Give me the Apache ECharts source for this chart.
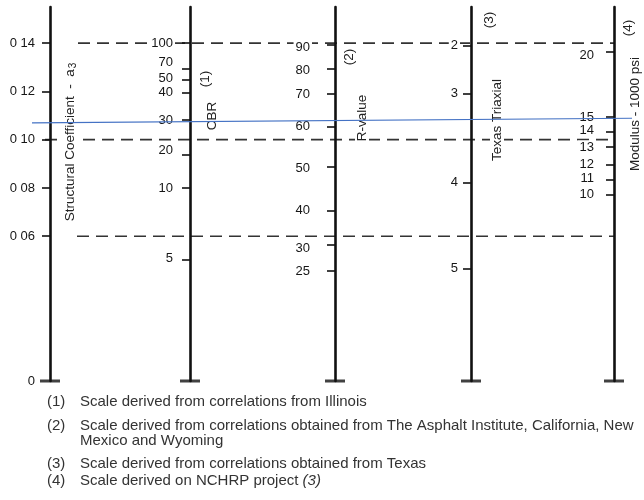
<!DOCTYPE html>
<html><head><meta charset="utf-8">
<script src="https://cdn.jsdelivr.net/npm/echarts@6/dist/echarts.min.js"></script>
<style>html,body{margin:0;padding:0;background:#fff}#c{width:644px;height:500px}</style>
</head><body><div id="c"></div>
<script>
// ---- data (positions expressed on the a3 coefficient scale) ----
const stations = [50, 190, 335, 471, 614];           // x units of the hidden horizontal axis

const a3Labels = ['0 14', '0 12', '0 10', '0 08', '0 06', '0'];
const a3LabelAt = [0.14, 0.12, 0.10, 0.08, 0.06, 0];
const a3TickAt = [0.14, 0.12, 0.10, 0.08, 0.06];

const cbrLabels = ['100', '70', '50', '40', '30', '20', '10', '5'];
const cbrTickAt = [0.140, 0.1293, 0.1247, 0.1194, 0.1082, 0.0937, 0.0802, 0.0501];
const cbrLabelAt = [0.140, 0.1322, 0.1256, 0.1198, 0.1078, 0.0957, 0.0800, 0.0506];

const rLabels = ['90', '80', '70', '60', '50', '40', '30', '25'];
const rTickAt = [0.1395, 0.1293, 0.1189, 0.1053, 0.0887, 0.0705, 0.0564, 0.0456];
const rLabelAt = [0.1381, 0.1289, 0.1189, 0.1057, 0.0883, 0.0705, 0.0551, 0.0453];

const txLabels = ['2', '3', '4', '5'];
const txTickAt = [0.1390, 0.1192, 0.0822, 0.0467];
const txLabelAt = [0.1390, 0.1192, 0.0822, 0.0467];

const modLabels = ['20', '15', '14', '13', '12', '11', '10'];
const modTickAt = [0.1364, 0.1094, 0.1032, 0.0970, 0.0895, 0.0833, 0.0771];
const modLabelAt = [0.1351, 0.1094, 0.1040, 0.0970, 0.0899, 0.0841, 0.0775];

const guideLevels = [0.14, 0.10, 0.06];
const guideFrom = [78, 45, 77];
const guideTo = [614, 614, 614];

const blueLine = [[32, 0.1070], [632, 0.1089]];

const axisTitles = [
  {text: 'Structural Coefficient  -  a', sub: '3', x: 70, y: 142},
  {text: '(1)', x: 205, y: 79},
  {text: 'CBR', x: 212, y: 116},
  {text: '(2)', x: 349, y: 57},
  {text: 'R-value', x: 362, y: 118},
  {text: '(3)', x: 489, y: 20},
  {text: 'Texas Triaxial', x: 497, y: 120},
  {text: '(4)', x: 628, y: 28},
  {text: 'Modulus - 1000 psi', x: 635, y: 114}
];

const notes = [
  {mark: '(1)', text: 'Scale derived from correlations from Illinois', y: 402},
  {mark: '(2)', text: 'Scale derived from correlations obtained from The Asphalt Institute, California, New', y: 426},
  {mark: '', text: 'Mexico and Wyoming', y: 441},
  {mark: '(3)', text: 'Scale derived from correlations obtained from Texas', y: 464},
  {mark: '(4)', text: 'Scale derived on NCHRP project ', italic: '(3)', y: 481}
];

// ---- chart ----
const FONT = '"Liberation Sans", Arial, Helvetica, sans-serif';
const A3MAX = 0.155;
const WIDTH = 644;

function scaleAxis(i, tickAt, labelAt, labels, margin) {
  return {
    type: 'value', min: 0, max: A3MAX, position: 'left',
    offset: -stations[i],
    axisLine: {show: true, lineStyle: {color: '#111', width: 2.6}},
    axisTick: {show: true, customValues: tickAt, length: 8, lineStyle: {color: '#111', width: 1.6}},
    axisLabel: {
      show: true, customValues: labelAt, margin: margin, fontSize: 13, color: '#161616', fontFamily: FONT,
      backgroundColor: '#fff', padding: [0, 2],
      formatter: function (v) {
        const k = labelAt.findIndex(p => Math.abs(p - v) < 1e-7);
        return k >= 0 ? labels[k] : '';
      }
    },
    splitLine: {show: false}
  };
}

const series = [];
guideLevels.forEach((lv, i) => {
  series.push({
    type: 'line', yAxisIndex: 0, silent: true, symbol: 'none', animation: false, z: -1,
    data: [[guideFrom[i], lv], [guideTo[i], lv]],
    lineStyle: {type: [12, 7], width: 1.7, color: '#333'}
  });
});
series.push({
  type: 'scatter', yAxisIndex: 0, silent: true, animation: false, clip: false, z: 3,
  symbol: 'rect', symbolSize: [20, 3],
  data: stations.map(x => [x, 0]), itemStyle: {color: '#111'}
});
series.push({
  type: 'line', yAxisIndex: 0, silent: true, symbol: 'none', animation: false, z: 10,
  data: blueLine, lineStyle: {width: 1.2, color: '#4472c4'}
});

const graphic = [];
axisTitles.forEach(t => {
  graphic.push({
    type: 'text', x: t.x, y: t.y, rotation: Math.PI / 2, silent: true, z: 1,
    style: {
      text: t.sub ? t.text + '{s|' + t.sub + '}' : t.text,
      rich: {s: {fontSize: 10, fontFamily: FONT, fill: '#222', verticalAlign: 'bottom', padding: [6, 0, 0, 1]}},
      fontSize: 13.5, fontFamily: FONT, fill: '#222', align: 'center', verticalAlign: 'middle',
      backgroundColor: '#fff', padding: [0, 2]
    }
  });
});
notes.forEach(n => {
  if (n.mark) graphic.push({
    type: 'text', x: 47, y: n.y, silent: true,
    style: {text: n.mark, fontSize: 15, fontFamily: FONT, fill: '#333', align: 'left', verticalAlign: 'middle'}
  });
  graphic.push({
    type: 'text', x: 80, y: n.y, silent: true,
    style: {
      text: n.italic ? n.text + '{i|' + n.italic + '}' : n.text,
      rich: {i: {fontStyle: 'italic', fontSize: 15, fontFamily: FONT, fill: '#333'}},
      fontSize: 15, fontFamily: FONT, fill: '#333', align: 'left', verticalAlign: 'middle'
    }
  });
});

const chart = echarts.init(document.getElementById('c'), null, {renderer: 'canvas'});
chart.setOption({
  animation: false,
  backgroundColor: '#fff',
  grid: {left: 0, right: 0, top: 7, bottom: 119, containLabel: false, outerBoundsMode: 'none'},
  xAxis: {type: 'value', min: 0, max: WIDTH, show: false},
  yAxis: [
    scaleAxis(0, a3TickAt, a3LabelAt, a3Labels, 13),
    scaleAxis(1, cbrTickAt, cbrLabelAt, cbrLabels, 15),
    scaleAxis(2, rTickAt, rLabelAt, rLabels, 23),
    scaleAxis(3, txTickAt, txLabelAt, txLabels, 11),
    scaleAxis(4, modTickAt, modLabelAt, modLabels, 18)
  ],
  series: series,
  graphic: graphic
});
</script></body></html>
